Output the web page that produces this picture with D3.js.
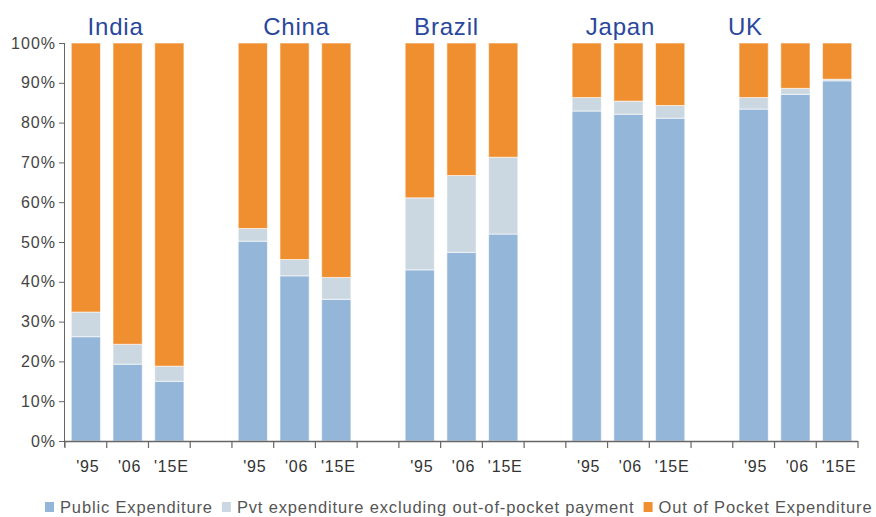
<!DOCTYPE html>
<html>
<head>
<meta charset="utf-8">
<script src="https://cdn.jsdelivr.net/npm/d3@7/dist/d3.min.js"></script>
<style>
  html, body { margin: 0; padding: 0; background: #fff; }
  svg { display: block; }
</style>
</head>
<body>
<script>
// Health expenditure mix by country and year (% of total)
const countries = ["India", "China", "Brazil", "Japan", "UK"];
const years = ["'95", "'06", "'15E"];
const publicExp = [
  [26.2, 19.3, 15.0],
  [50.2, 41.5, 35.6],
  [43.0, 47.4, 52.0],
  [82.9, 82.1, 81.1],
  [83.4, 87.1, 90.5]
];
const pvtExp = [
  [6.2, 5.0, 3.8],
  [3.2, 4.1, 5.5],
  [18.1, 19.3, 19.3],
  [3.4, 3.3, 3.2],
  [2.9, 1.5, 0.4]
];
const outOfPocket = publicExp.map((row, i) => row.map((v, j) => +(100 - v - pvtExp[i][j]).toFixed(1)));
const seriesNames = ["Public Expenditure", "Pvt expenditure excluding out-of-pocket payment", "Out of Pocket Expenditure"];
const seriesColors = ["#94b6d8", "#cbd8e1", "#f08f30"];
const yTicks = [0, 10, 20, 30, 40, 50, 60, 70, 80, 90, 100];

const W = 876, H = 517;
const margin = { left: 65, right: 18, top: 43, bottom: 76 };
const font = "'Liberation Sans', Arial, sans-serif";
const svg = d3.select("body").append("svg").attr("width", W).attr("height", H);

// Slots: three years per country, with one empty slot between countries
const slots = [];
countries.forEach((c, ci) => {
  years.forEach((y, yi) => slots.push({ key: c + y, country: ci, year: yi, label: y }));
  if (ci < countries.length - 1) slots.push({ key: "gap" + ci, country: -1, label: "" });
});

const x = d3.scaleBand()
  .domain(slots.map(s => s.key))
  .range([margin.left, W - margin.right])
  .paddingInner(0.3)
  .paddingOuter(0.15);
const y = d3.scaleLinear().domain([0, 100]).range([H - margin.bottom, margin.top]);

const step = x.step();
const edge = k => x(k) - (step - x.bandwidth()) / 2;

// Stacked segments
const rows = slots.filter(s => s.country >= 0).map(s => ({
  key: s.key,
  pub: publicExp[s.country][s.year],
  pvt: pvtExp[s.country][s.year],
  oop: outOfPocket[s.country][s.year]
}));
const stack = d3.stack().keys(["pub", "pvt", "oop"]);
const layers = stack(rows);

svg.append("g").selectAll("g")
  .data(layers)
  .join("g")
  .attr("fill", (d, i) => seriesColors[i])
  .selectAll("rect")
  .data(d => d)
  .join("rect")
  .attr("x", d => x(d.data.key))
  .attr("width", x.bandwidth())
  .attr("y", d => y(d[1]))
  .attr("height", d => y(d[0]) - y(d[1]))
  .attr("stroke", "#fff")
  .attr("stroke-opacity", 0.6)
  .attr("stroke-width", 1);

// Y axis
const yAxis = d3.axisLeft(y).tickValues(yTicks).tickFormat(d => d + "%").tickSize(6).tickPadding(3);
const gy = svg.append("g").attr("transform", `translate(${margin.left},0)`).call(yAxis);
gy.select(".domain").attr("stroke", "#666").attr("d", `M-0.5,${y(100)}V${y(0) + 6}`);
gy.selectAll(".tick line").attr("stroke", "#666");
gy.selectAll("text").attr("fill", "#444").style("font-family", font)
  .style("font-size", "16px").style("letter-spacing", "1px");

// X axis: baseline with ticks at slot boundaries
const gx = svg.append("g");
const x0 = edge(slots[0].key), x1 = edge(slots[slots.length - 1].key) + step;
gx.append("line").attr("x1", x0).attr("x2", x1).attr("y1", y(0) + 0.5).attr("y2", y(0) + 0.5).attr("stroke", "#666").attr("stroke-width", 1.5);
const bounds = slots.map(s => edge(s.key)).concat([x1]);
gx.selectAll("line.tk").data(bounds).join("line").attr("class", "tk")
  .attr("x1", d => d).attr("x2", d => d)
  .attr("y1", y(0)).attr("y2", y(0) + 7)
  .attr("stroke", "#666").attr("stroke-width", 1.2);
gx.selectAll("text").data(slots.filter(s => s.label)).join("text")
  .attr("x", d => x(d.key) + x.bandwidth() / 2 + 2)
  .attr("y", y(0) + 31)
  .attr("text-anchor", "middle")
  .attr("fill", "#333")
  .style("font-family", font)
  .style("font-size", "16px")
  .style("letter-spacing", "0.8px")
  .text(d => d.label);

// Country titles over each group
const titleShift = [-12, 2, -15, -8, -50];
svg.append("g").selectAll("text").data(countries).join("text")
  .attr("x", (c, i) => x(c + years[1]) + x.bandwidth() / 2 + titleShift[i])
  .attr("y", 35)
  .attr("text-anchor", "middle")
  .attr("fill", "#2a479e")
  .style("font-family", font)
  .style("font-size", "24px")
  .style("letter-spacing", "0.8px")
  .text(c => c);

// Legend along the bottom edge
const legend = svg.append("g").attr("transform", `translate(45, ${H - 4})`);
let lx = 0;
seriesNames.forEach((name, i) => {
  const g = legend.append("g").attr("transform", `translate(${lx},0)`);
  g.append("rect").attr("x", 0).attr("y", -11).attr("width", 9).attr("height", 10).attr("fill", seriesColors[i]);
  const t = g.append("text").attr("x", 15).attr("y", 0).attr("fill", "#555")
    .style("font-family", font).style("font-size", "16.5px").style("letter-spacing", "0.85px").text(name);
  lx += 15 + t.node().getComputedTextLength() + 9;
});
</script>
</body>
</html>
